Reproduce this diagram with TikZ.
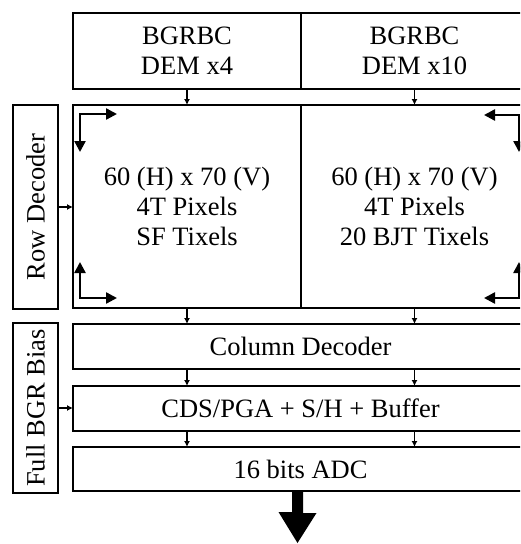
\documentclass[tikz,border=0pt]{standalone}
\usepackage{fontspec}
\setmainfont{Liberation Serif}
\usetikzlibrary{arrows.meta}
\begin{document}
\begin{tikzpicture}[x=1pt,y=-1pt,
  box/.style={draw,line width=2.8pt,rectangle,inner sep=0pt,outer sep=0pt,align=center,
    font=\fontsize{26.5}{30}\selectfont},
  small/.style={line width=1.4pt,-{Latex[length=6pt,width=6pt]}},
  corner/.style={line width=2.4pt,{Triangle[length=11pt,width=11pt]}-{Triangle[length=11pt,width=11pt]}}]
\clip (0,0) rectangle (520,544);
\fill[white] (0,0) rectangle (520,544);
% top boxes
\node[box,minimum width=228pt,minimum height=76pt] (topL) at (187,51) {BGRBC\\DEM x4};
\node[box,minimum width=227pt,minimum height=76pt] (topR) at (414.5,51) {BGRBC\\DEM x10};
% pixel matrices
\node[box,minimum width=228pt,minimum height=203pt] (matL) at (187,206.5) {60 (H) x 70 (V)\\4T Pixels\\SF Tixels};
\node[box,minimum width=227pt,minimum height=203pt] (matR) at (414.5,206.5) {60 (H) x 70 (V)\\4T Pixels\\20 BJT Tixels};
% side boxes
\node[box,rotate=90,minimum width=204pt,minimum height=45pt] (row) at (35.5,207) {Row Decoder};
\node[box,rotate=90,minimum width=170pt,minimum height=45pt] (bgr) at (35.5,408) {Full BGR Bias};
% readout chain
\node[box,minimum width=455pt,minimum height=45pt] (col) at (300.5,346.5) {Column Decoder};
\node[box,minimum width=455pt,minimum height=45pt] (cds) at (300.5,408.5) {CDS/PGA + S/H + Buffer};
\node[box,minimum width=455pt,minimum height=44pt] (adc) at (300.5,469) {16 bits ADC};
% small arrows
\draw[small] (topL.south) -- (matL.north);
\draw[small] (topR.south) -- (matR.north);
\draw[small] (matL.south) -- (matL.south |- col.north);
\draw[small] (matR.south) -- (matR.south |- col.north);
\draw[small] (col.south -| matL) -- (cds.north -| matL);
\draw[small] (col.south -| matR) -- (cds.north -| matR);
\draw[small] (cds.south -| matL) -- (adc.north -| matL);
\draw[small] (cds.south -| matR) -- (adc.north -| matR);
\draw[small] (row.south) -- (row.south -| matL.west);
\draw[small] (bgr.south) -- (bgr.south -| cds.west);
% corner arrows
\draw[corner] (80,152) -- (80,114) -- (117,114);
\draw[corner] (80,262) -- (80,298) -- (117,298);
\draw[corner] (519,152) -- (519,115) -- (484,115);
\draw[corner] (519,262) -- (519,298) -- (484,298);
% output arrow
\coordinate (out) at (297.5,543);
\fill (adc.south -| out) ++(-5.5,0) -- ++(0,21) -- ++(-13.5,0) -- (out) -- (316.5,513) -- (303,513) -- (303,492) -- cycle;
\end{tikzpicture}
\end{document}
